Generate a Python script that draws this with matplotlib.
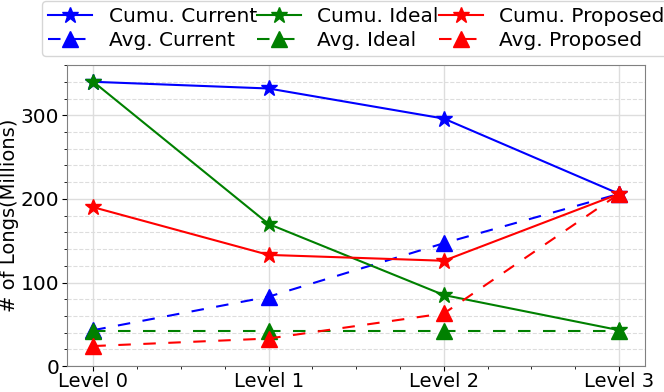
import matplotlib
matplotlib.use("Agg")
import matplotlib.pyplot as plt
from matplotlib.ticker import MultipleLocator

levels = ["Level 0", "Level 1", "Level 2", "Level 3"]
cumu_current = [340, 332, 296, 206]
avg_current = [43, 83, 147, 206]
cumu_ideal = [340, 170, 85, 43]
avg_ideal = [42, 42, 42, 42]
cumu_proposed = [190, 133, 126, 206]
avg_proposed = [24, 33, 63, 206]

fig = plt.figure(figsize=(6.64, 3.92), dpi=100)
ax = fig.add_axes([0.101, 0.066, 0.871, 0.768])
x = range(len(levels))

ax.plot(x, cumu_current, '-', color='blue', marker='*', ms=12, lw=1.5, label='Cumu. Current')
ax.plot(x, avg_current, '--', color='blue', marker='^', ms=11, lw=1.5, dashes=(6, 6), label='Avg. Current')
ax.plot(x, cumu_ideal, '-', color='green', marker='*', ms=12, lw=1.5, label='Cumu. Ideal')
ax.plot(x, avg_ideal, '--', color='green', marker='^', ms=11, lw=1.5, dashes=(6, 6), label='Avg. Ideal')
ax.plot(x, cumu_proposed, '-', color='red', marker='*', ms=12, lw=1.5, label='Cumu. Proposed')
ax.plot(x, avg_proposed, '--', color='red', marker='^', ms=11, lw=1.5, dashes=(6, 6), label='Avg. Proposed')

ax.set_xlim(-0.15, 3.15)
ax.set_ylim(0, 360)
ax.set_xticks(list(x))
ax.set_xticklabels(levels, fontsize=14)
ax.xaxis.set_minor_locator(MultipleLocator(0.25))
ax.yaxis.set_major_locator(MultipleLocator(100))
ax.yaxis.set_minor_locator(MultipleLocator(20))
ax.tick_params(axis='y', labelsize=14.5, pad=2)
ax.tick_params(axis='x', pad=1)
ax.set_ylabel('# of Longs(Millions)', fontsize=14, labelpad=1)
ax.grid(True, which='major', color='#dddddd', lw=1)
ax.grid(True, which='minor', axis='y', color='#dddddd', lw=0.8, ls='--')
ax.set_axisbelow(True)
for s in ax.spines.values():
    s.set_color('#808080')

ax.legend(ncol=3, loc='lower center', bbox_to_anchor=(0.5, 1.03), fontsize=14.5,
          handlelength=2.2, columnspacing=0.0, handletextpad=0.8, labelspacing=0.25,
          borderpad=0.3, borderaxespad=0, frameon=True)

fig.savefig('out.png', dpi=100)
